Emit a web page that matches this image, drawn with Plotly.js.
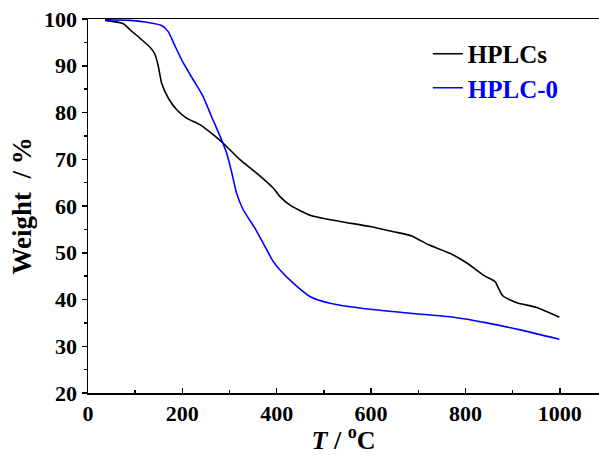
<!DOCTYPE html>
<html>
<head>
<meta charset="utf-8">
<script src="https://cdn.plot.ly/plotly-3.0.1.min.js"></script>
<style>html,body{margin:0;padding:0;background:#fff;}#chart{width:599px;height:455px;}</style>
</head>
<body>
<div id="chart"></div>
<script>
// HPLCs (black)
var hplcsT = [36, 75, 89, 110, 133, 142, 149, 156, 170, 188, 209, 237, 266, 290, 322, 358, 393, 407, 428, 474, 534, 598, 647, 686, 722, 767, 803, 838, 863, 870, 879, 909, 951, 999];
var hplcsW = [99.7, 99.0, 97.7, 95.9, 93.8, 92.4, 89.9, 86.3, 83.1, 80.6, 78.8, 77.4, 75.2, 73.1, 69.9, 67.0, 63.8, 62.0, 60.2, 57.9, 56.7, 55.6, 54.5, 53.6, 51.7, 49.9, 47.8, 45.2, 43.8, 42.4, 40.8, 39.3, 38.3, 36.2];
// HPLC-0 (blue)
var hplc0T = [36, 89, 124, 156, 170, 185, 202, 223, 243, 262, 280, 294, 305, 315, 329, 354, 379, 392, 407, 435, 471, 513, 598, 690, 775, 845, 916, 999];
var hplc0W = [99.85, 99.7, 99.3, 98.6, 97.3, 94.1, 90.6, 87.0, 83.6, 79.1, 74.9, 71.3, 67.0, 62.7, 59.2, 55.2, 50.6, 48.2, 46.3, 43.5, 40.6, 39.2, 37.9, 37.0, 36.2, 35.0, 33.5, 31.5];

var xTickVals = [0, 200, 400, 600, 800, 1000];
var yTickVals = [20, 30, 40, 50, 60, 70, 80, 90, 100];

var serif = 'Liberation Serif, Times New Roman, serif';

var traces = [
  {x: hplcsT, y: hplcsW, mode: 'lines', name: 'HPLCs', legend: 'legend',
   line: {color: '#000000', width: 1.6, shape: 'spline', smoothing: 0.6}},
  {x: hplc0T, y: hplc0W, mode: 'lines', name: '<span style="color:#0000ff">HPLC-0</span>', legend: 'legend2',
   line: {color: '#0000ff', width: 1.6, shape: 'spline', smoothing: 0.6}}
];

var legFont = {family: serif, size: 25, weight: 'bold', color: '#000000'};

var layout = {
  width: 599, height: 455,
  margin: {l: 88, r: 0, t: 19, b: 62},
  paper_bgcolor: '#ffffff', plot_bgcolor: '#ffffff',
  font: {family: serif, color: '#000000', size: 22, weight: 'bold'},
  showlegend: true,
  legend: {x: 0.665, y: 0.968, xanchor: 'left', yanchor: 'top', bgcolor: 'rgba(0,0,0,0)', font: legFont},
  legend2: {x: 0.665, y: 0.877, xanchor: 'left', yanchor: 'top', bgcolor: 'rgba(0,0,0,0)', font: legFont},
  xaxis: {
    range: [0, 1083], tickvals: xTickVals, ticktext: xTickVals.map(String),
    showgrid: false, zeroline: false, showline: true, linecolor: '#000', linewidth: 1.5, mirror: true,
    ticks: 'inside', ticklen: 5, tickwidth: 1.5, tickcolor: '#000',
    minor: {dtick: 100, tick0: 0, ticks: 'inside', ticklen: 3, tickwidth: 1.5, tickcolor: '#000', showgrid: false},
    title: {text: '<i>T</i> / <sup>o</sup>C', font: {family: serif, size: 26, weight: 'bold'}, standoff: 0}
  },
  yaxis: {
    range: [20, 100], tickvals: yTickVals, ticktext: yTickVals.map(String),
    showgrid: false, zeroline: false, showline: true, linecolor: '#000', linewidth: 1.5, mirror: false,
    ticks: 'outside', ticklen: 5, tickwidth: 1.5, tickcolor: '#000',
    minor: {dtick: 5, tick0: 0, ticks: 'outside', ticklen: 3, tickwidth: 1.5, tickcolor: '#000', showgrid: false},
    title: {text: 'Weight  / %', font: {family: serif, size: 27, weight: 'bold'}, standoff: 4}
  }
};

Plotly.newPlot('chart', traces, layout, {staticPlot: true, displayModeBar: false});
</script>
</body>
</html>
